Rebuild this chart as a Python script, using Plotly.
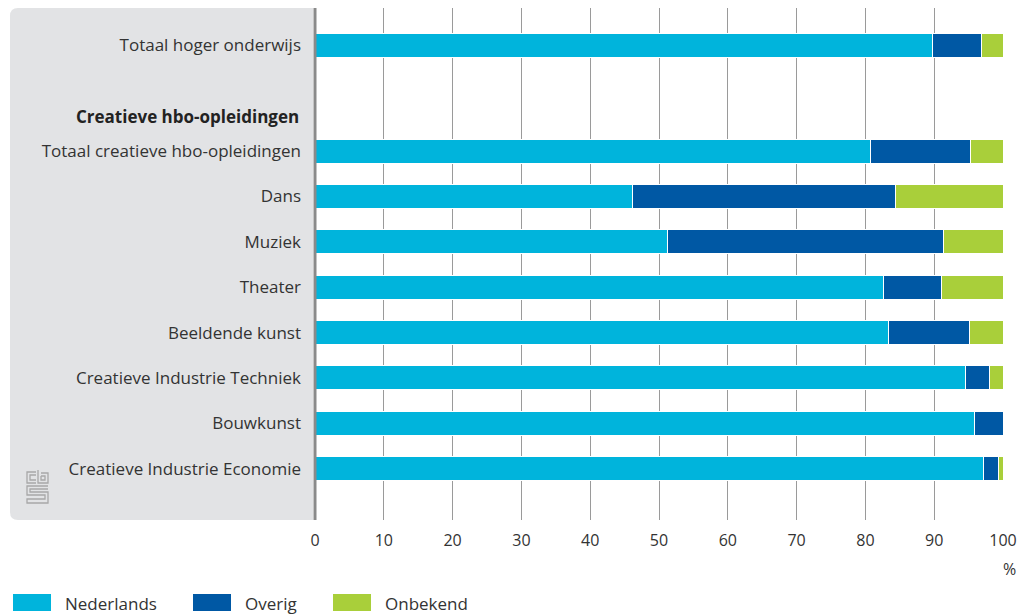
import plotly.graph_objects as go

# top block
top_categories = ["Totaal hoger onderwijs"]
top_nederlands = [89.8]
top_overig = [7.1]
top_onbekend = [3.1]

header_label = "Creatieve hbo-opleidingen"

# creative hbo block
categories = [
    "Totaal creatieve hbo-opleidingen",
    "Dans",
    "Muziek",
    "Theater",
    "Beeldende kunst",
    "Creatieve Industrie Techniek",
    "Bouwkunst",
    "Creatieve Industrie Economie",
]
nederlands = [80.8, 46.1, 51.2, 82.7, 83.4, 94.6, 95.9, 97.2]
overig = [14.5, 38.3, 40.2, 8.4, 11.8, 3.5, 4.1, 2.1]
onbekend = [4.7, 15.6, 8.6, 8.9, 4.8, 1.9, 0.0, 0.7]

series_names = ["Nederlands", "Overig", "Onbekend"]
series_colors = ["#00b4dc", "#0058a4", "#a9cf3a"]

x_ticks = [0, 10, 20, 30, 40, 50, 60, 70, 80, 90, 100]

# page offset (browser body margin)
OFF = 8
W, H = 1026 - OFF, 615 - OFF
PLOT_L, PLOT_R, PLOT_T, PLOT_B = 315, 1003, 8, 520
L, T = PLOT_L - OFF, PLOT_T - OFF
R = W - (PLOT_R - OFF)
B = H - (PLOT_B - OFF)
PW, PH = PLOT_R - PLOT_L, PLOT_B - PLOT_T


def px(x):
    return (x - PLOT_L) / PW


def py(y):
    return (PLOT_B - y) / PH


ROW = 45.4          # row pitch in pixels
TOP_CENTER = 45     # pixel centre of the top bar
MAIN_FIRST = 151    # pixel centre of first creative row
SPLIT = 67.7        # pixel boundary between the two blocks

fig = go.Figure()
top_series = [top_nederlands, top_overig, top_onbekend]
main_series = [nederlands, overig, onbekend]
for name, tv, mv, col in zip(series_names, top_series, main_series, series_colors):
    mk = dict(color=col, line=dict(color="white", width=1))
    fig.add_trace(go.Bar(y=top_categories, x=tv, name=name, orientation="h",
                         marker=mk, showlegend=False, hoverinfo="x+name",
                         xaxis="x2", yaxis="y2"))
    fig.add_trace(go.Bar(y=categories, x=mv, name=name, orientation="h",
                         marker=mk, showlegend=False, hoverinfo="x+name",
                         xaxis="x", yaxis="y"))

shapes = []
x0, x1 = px(10), px(313)
rx, ry = 8 / PW, 8 / PH
shapes.append(dict(
    type="path", xref="paper", yref="paper", layer="below",
    path=(f"M {x1},0 L {x0+rx},0 Q {x0},0 {x0},{ry} L {x0},{1-ry} "
          f"Q {x0},1 {x0+rx},1 L {x1},1 Z"),
    fillcolor="#e2e3e5", line=dict(width=0),
))
shapes.append(dict(type="line", xref="paper", yref="paper", x0=0, x1=0, y0=0, y1=1,
                   line=dict(color="#8a8a8a", width=3), layer="above"))

logo_col = "#a8a8a8"
logo_paths = [
    [(36, 472), (27, 472), (27, 483), (36, 483)],
    [(36, 475), (30, 475), (30, 480), (36, 480)],
    [(38, 470), (38, 483), (48, 483), (48, 473), (41, 473)],
    [(41, 476), (45, 476), (45, 480), (41, 480), (41, 476)],
    [(48, 486), (27, 486), (27, 495), (45, 495), (45, 499), (27, 499), (27, 503),
     (48, 503), (48, 492), (30, 492), (30, 489), (48, 489)],
]
for pts in logo_paths:
    d = "M " + " L ".join(f"{px(a)},{py(b)}" for a, b in pts)
    shapes.append(dict(type="path", xref="paper", yref="paper", path=d,
                       line=dict(color=logo_col, width=1.3)))

annotations = [
    dict(text="%", xref="paper", yref="paper", x=px(1010), y=py(569),
         xanchor="center", yanchor="middle",
         showarrow=False, font=dict(size=16, color="#333333")),
    dict(text="<b>%s</b>" % header_label, xref="paper", yref="paper",
         x=px(301), y=py(116), xanchor="right", yanchor="middle",
         showarrow=False, font=dict(size=17, color="#222222")),
]

legend_x = [13, 193, 333]
for name, col, lx in zip(series_names, series_colors, legend_x):
    shapes.append(dict(type="rect", xref="paper", yref="paper",
                       x0=px(lx), x1=px(lx + 38), y0=py(611), y1=py(594),
                       fillcolor=col, line=dict(width=0)))
    annotations.append(dict(text=name, xref="paper", yref="paper",
                            x=px(lx + 50), y=py(603), xanchor="left", yanchor="middle",
                            showarrow=False, font=dict(size=17, color="#333333")))

n = len(categories)
grid = dict(range=[0, 100], tickvals=x_ticks, showgrid=True, gridcolor="#9a9a9a",
            gridwidth=1, zeroline=False, showline=False, ticks="", fixedrange=True)
ycommon = dict(type="category", showgrid=False, zeroline=False, showline=False,
               ticks="", ticklabelstandoff=13, fixedrange=True,
               tickfont=dict(size=17))

fig.update_layout(
    width=W, height=H,
    margin=dict(l=L, r=R, t=T, b=B, autoexpand=False),
    paper_bgcolor="white", plot_bgcolor="white",
    barmode="stack", bargap=1 - 24 / ROW,
    font=dict(family="Open Sans, Noto Sans, sans-serif", size=16, color="#333333"),
    xaxis=dict(**grid, tickfont=dict(size=16), ticklabelstandoff=9, anchor="y"),
    xaxis2=dict(**grid, showticklabels=False, anchor="y2", matches="x"),
    yaxis=dict(**ycommon, domain=[0, py(SPLIT)], anchor="x",
               categoryarray=categories,
               range=[(n - 1) + (PLOT_B - (MAIN_FIRST + (n - 1) * ROW)) / ROW,
                      -(MAIN_FIRST - SPLIT) / ROW]),
    yaxis2=dict(**ycommon, domain=[py(SPLIT), 1], anchor="x2",
                categoryarray=top_categories,
                range=[(SPLIT - TOP_CENTER) / ROW, -(TOP_CENTER - PLOT_T) / ROW]),
    shapes=shapes, annotations=annotations,
)

fig.write_html("out.html")
